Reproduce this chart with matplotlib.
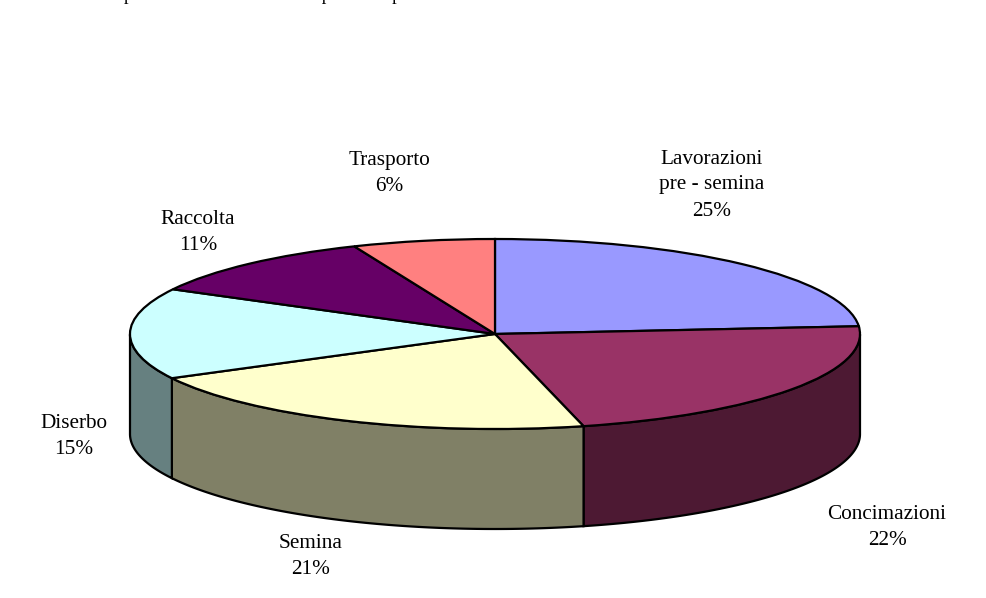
import numpy as np
import matplotlib
matplotlib.use('Agg')
from matplotlib import pyplot as plt

labels = ['Lavorazioni\npre - semina', 'Concimazioni', 'Semina', 'Diserbo', 'Raccolta', 'Trasporto']
percents = [25, 22, 21, 15, 11, 6]
# size of each slice as drawn, the 3d view squeezes them a bit
drawn_shares = [23.7, 22.4, 21.2, 15.5, 10.9, 6.3]
top_colors = ['#9999FF', '#993366', '#FFFFCC', '#CCFFFF', '#660066', '#FF8080']
side_colors = ['#4D4D80', '#4D1933', '#808066', '#668080', '#330033', '#804040']
label_pos = [(712, 185), (887, 527.5), (311, 557), (74, 437), (198, 233), (389, 173.5)]

W, H = 986, 598
CX, CY, RX, RY, DEPTH = 495, 334, 365, 95, 100

plt.rcParams['font.family'] = ['Liberation Serif', 'DejaVu Serif']

fig = plt.figure(figsize=(W / 100, H / 100), dpi=100)
ax = fig.add_axes([0, 0, 1, 1])

# top face, unit circle squashed by the axes limits
ax.pie(drawn_shares, colors=top_colors, startangle=90, counterclock=False, normalize=True,
       wedgeprops={'edgecolor': 'black', 'linewidth': 1.6, 'zorder': 3})
ax.set_aspect('auto')
ax.set_xlim(-CX / RX, (W - CX) / RX)
ax.set_ylim((CY - H) / RY, CY / RY)
ax.axis('off')

# sides, only the front half of the rim shows
drop = DEPTH / RY
edges = 90 - 3.6 * np.cumsum([0] + drawn_shares)
for i in range(len(drawn_shares)):
    a = np.radians(np.linspace(edges[i], edges[i + 1], 200))
    a = a[np.sin(a) <= 0]
    if len(a) < 2:
        continue
    x = np.cos(a)
    y = np.sin(a)
    ax.fill(np.r_[x, x[::-1]], np.r_[y, y[::-1] - drop], facecolor=side_colors[i],
            edgecolor='black', linewidth=1.6, zorder=2)

for name, pct, (px, py) in zip(labels, percents, label_pos):
    ax.text((px - CX) / RX, (CY - py) / RY, f'{name}\n{pct}%', ha='center', va='center',
            fontsize=15.3, linespacing=1.5, color='black')

# caption cut by the top edge of the page, only the descenders show
fig.text(46 / W, 1 - 0.5 / H, 'Incidenza percentuale delle voci nel processo produttivo',
         fontsize=13.5, va='baseline', ha='left', color='black')

fig.savefig('out.png', dpi=100)
